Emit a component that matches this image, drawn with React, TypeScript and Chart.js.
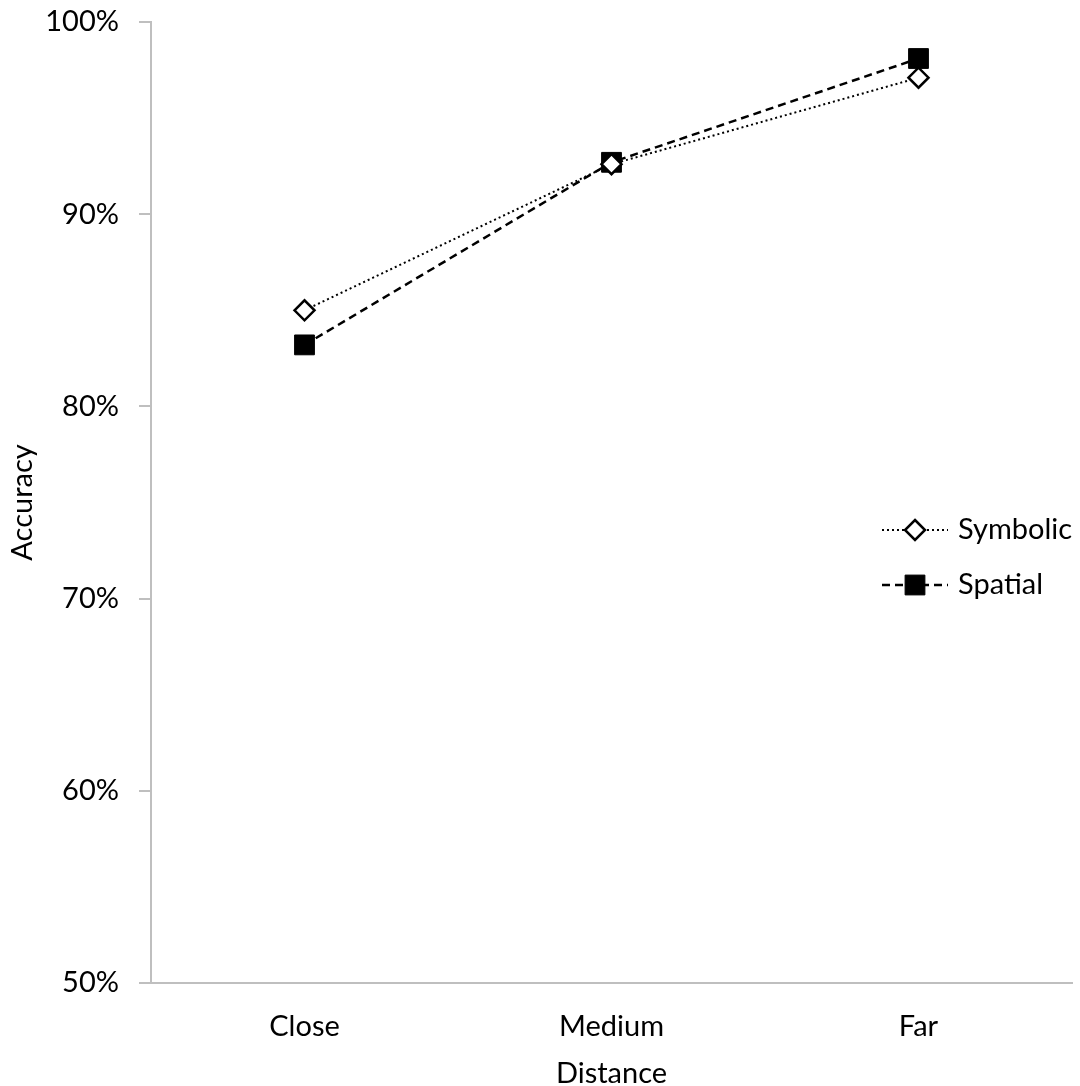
import React, { useEffect, useRef } from "react";
import { Chart, registerables } from "chart.js";

Chart.register(...registerables);

const categories = ["Close", "Medium", "Far"];
const symbolicValues = [0.850, 0.926, 0.971];
const spatialValues = [0.832, 0.927, 0.981];
const seriesNames = ["Symbolic", "Spatial"];
const yTicks = [0.5, 0.6, 0.7, 0.8, 0.9, 1.0];
const xTitle = "Distance";
const yTitle = "Accuracy";

const FONT = "Lato, 'Open Sans', sans-serif";
const FS = 29;
const AXIS = "#BFBFBF";
const TARGET_RIGHT = 1072;

const zeroPad = (s: any) => {
  s.paddingLeft = 0;
  s.paddingRight = 0;
  s.paddingTop = 0;
  s.paddingBottom = 0;
};

const legendPlugin = {
  id: "insideLegend",
  afterDraw(chart: any) {
    const ctx = chart.ctx;
    const area = chart.chartArea;
    const lineStart = area.right - 190;
    const lineEnd = area.right - 124;
    const textX = area.right - 114;
    const ys = [area.top + 508, area.top + 563];
    chart.data.datasets.forEach((ds: any, i: number) => {
      const y = ys[i];
      ctx.save();
      ctx.strokeStyle = ds.borderColor;
      ctx.lineWidth = ds.borderWidth;
      ctx.setLineDash(ds.borderDash || []);
      ctx.beginPath();
      ctx.moveTo(lineStart, y);
      ctx.lineTo(lineEnd, y);
      ctx.stroke();
      ctx.setLineDash([]);
      const cx = (lineStart + lineEnd) / 2;
      ctx.fillStyle = ds.pointBackgroundColor;
      ctx.strokeStyle = ds.pointBorderColor;
      ctx.lineWidth = ds.pointBorderWidth;
      const r = ds.pointRadius;
      ctx.beginPath();
      if (ds.pointStyle === "rectRot") {
        ctx.moveTo(cx, y - r);
        ctx.lineTo(cx + r, y);
        ctx.lineTo(cx, y + r);
        ctx.lineTo(cx - r, y);
        ctx.closePath();
      } else {
        const h = r * Math.SQRT1_2;
        ctx.rect(cx - h, y - h, 2 * h, 2 * h);
      }
      ctx.fill();
      ctx.stroke();
      ctx.fillStyle = "#000";
      ctx.font = `${FS}px ${FONT}`;
      ctx.textBaseline = "middle";
      ctx.textAlign = "left";
      ctx.fillText(ds.label, textX, y);
      ctx.restore();
    });
  },
};

export default function App() {
  const ref = useRef<HTMLCanvasElement>(null);
  useEffect(() => {
    document.body.style.margin = "0";
    document.body.style.overflow = "hidden";
    document.documentElement.style.overflow = "hidden";
    const chart = new Chart(ref.current as HTMLCanvasElement, {
      type: "line",
      data: {
        labels: categories,
        datasets: [
          {
            label: seriesNames[0],
            data: symbolicValues,
            borderColor: "#000",
            borderWidth: 2,
            borderDash: [2, 3],
            pointStyle: "rectRot",
            pointRadius: 10,
            pointBackgroundColor: "#fff",
            pointBorderColor: "#000",
            pointBorderWidth: 2.5,
            fill: false,
          } as any,
          {
            label: seriesNames[1],
            data: spatialValues,
            borderColor: "#000",
            borderWidth: 2.5,
            borderDash: [8, 5],
            pointStyle: "rect",
            pointRadius: 14,
            pointBackgroundColor: "#000",
            pointBorderColor: "#000",
            pointBorderWidth: 1,
            fill: false,
          } as any,
        ],
      },
      options: {
        responsive: false,
        maintainAspectRatio: false,
        animation: false,
        layout: { padding: { top: 22, right: 8, left: 0, bottom: 0 } },
        plugins: { legend: { display: false }, tooltip: { enabled: false } },
        scales: {
          x: {
            offset: true,
            grid: {
              offset: true,
              drawOnChartArea: false,
              drawTicks: true,
              tickLength: 10,
              lineWidth: 2,
              color: (c: any) => (c.index === categories.length ? AXIS : "rgba(0,0,0,0)"),
            },
            border: { display: true, color: AXIS, width: 2 },
            ticks: { color: "#000", font: { family: FONT, size: FS }, padding: 16, maxRotation: 0, autoSkip: false },
            title: { display: true, text: xTitle, color: "#000", font: { family: FONT, size: FS }, padding: { top: 0, bottom: -5 } },
            afterFit: (s: any) => {
              s.height = 103;
              zeroPad(s);
            },
          },
          y: {
            min: yTicks[0],
            max: yTicks[yTicks.length - 1],
            afterBuildTicks: (s: any) => { s.ticks = yTicks.map((v) => ({ value: v })); },
            grid: { drawOnChartArea: false, drawTicks: true, tickLength: 12, lineWidth: 2, color: AXIS },
            border: { display: true, color: AXIS, width: 2 },
            ticks: {
              color: "#000",
              font: { family: FONT, size: FS },
              padding: 20,
              callback: (v: any) => `${Math.round(Number(v) * 100)}%`,
            },
            title: { display: true, text: yTitle, color: "#000", font: { family: FONT, size: FS }, padding: { top: 5, bottom: 0 } },
            afterFit: (s: any) => {
              s.width = 151;
              zeroPad(s);
            },
          },
        },
      },
      plugins: [legendPlugin],
    });
    // The plot area comes out narrower than intended; widen the canvas (the extra is clipped off-screen)
    for (let i = 0; i < 3; i++) {
      const d = TARGET_RIGHT - chart.chartArea.right;
      if (Math.abs(d) < 0.5) break;
      try {
        chart.resize(chart.width + d, 1086);
      } catch (e) {
        break;
      }
    }
    return () => chart.destroy();
  }, []);
  return (
    <div style={{ width: 1080, height: 1086, background: "#fff", overflow: "hidden" }}>
      <canvas ref={ref} width={1080} height={1086} style={{ display: "block" }} />
    </div>
  );
}
